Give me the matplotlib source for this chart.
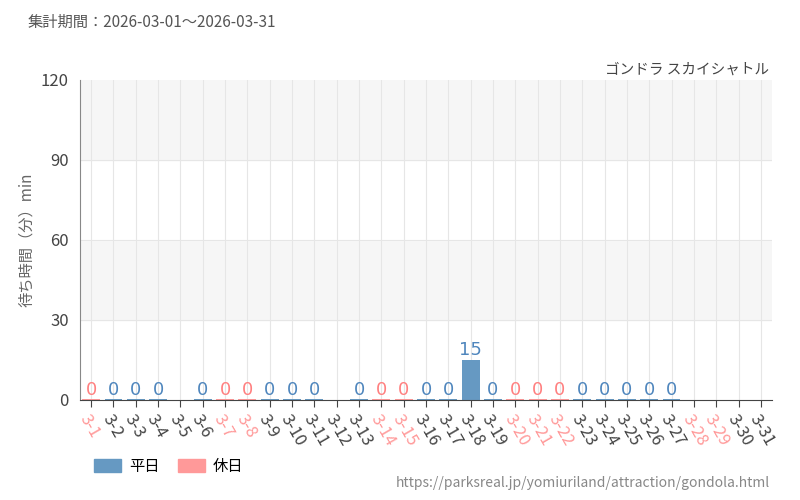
import numpy as np
import matplotlib.pyplot as plt
from matplotlib.patches import Patch

plt.rcParams['font.family'] = ['Noto Sans CJK JP', 'DejaVu Sans']

days = [f'3-{d}' for d in range(1, 32)]
# None = no data
waits = [0, 0, 0, 0, None, 0, 0, 0, 0, 0, 0, None, 0, 0, 0, 0, 0, 15, 0,
         0, 0, 0, 0, 0, 0, 0, 0, None, None, None, None]
holidays = [1, 7, 8, 14, 15, 20, 21, 22, 28, 29]

blue = '#6699c2'
red = '#ff9999'
blue_txt = '#4f86bd'
red_txt = '#ff8080'

fig = plt.figure(figsize=(8, 5), dpi=100)
ax = fig.add_axes([0.10, 0.20, 0.865, 0.64])

x = np.arange(len(days))
for lo, hi, c in [(0, 30, 'white'), (30, 60, '#f6f6f6'), (60, 90, 'white'), (90, 120, '#f6f6f6')]:
    ax.axhspan(lo, hi, color=c, zorder=0)
for xi in x:
    ax.axvline(xi, color='#e6e6e6', lw=0.8, zorder=1)
for yv in [30, 60, 90]:
    ax.axhline(yv, color='#e6e6e6', lw=0.8, zorder=1)

for i, v in enumerate(waits):
    if v is None:
        continue
    hol = (i + 1) in holidays
    col = red if hol else blue
    ax.bar(i, max(v, 0.4), width=0.8, color=col, zorder=2)
    ax.text(i, v + 0.3, str(v), ha='center', va='bottom', fontsize=13,
            color=red_txt if hol else blue_txt,
            family=['Liberation Sans Narrow', 'DejaVu Sans'], zorder=3)

ax.set_xlim(-0.5, len(days) - 0.5)
ax.set_ylim(0, 120)
ax.set_yticks([0, 30, 60, 90, 120])
ax.set_xticks(x)
ax.set_xticklabels(days, rotation=-60, ha='left', rotation_mode='anchor', fontsize=12)
for i, lab in enumerate(ax.get_xticklabels()):
    lab.set_color(red if (i + 1) in holidays else '#444444')
ax.tick_params(axis='y', length=0, labelsize=12, labelcolor='#444444', pad=8)
ax.tick_params(axis='x', length=5, color='#444444')
for s in ['top', 'right']:
    ax.spines[s].set_visible(False)
ax.spines['left'].set_color('#888888')
ax.spines['bottom'].set_color('#444444')
ax.set_ylabel('待ち時間（分）min', fontsize=11, color='#666666')

fig.text(0.035, 0.955, '集計期間：2026-03-01～2026-03-31', fontsize=11, color='#555555', va='center')
fig.text(0.962, 0.86, 'ゴンドラ スカイシャトル', fontsize=10.5, color='#444444', ha='right', va='center')
fig.text(0.962, 0.035, 'https://parksreal.jp/yomiuriland/attraction/gondola.html',
         fontsize=10, color='#888888', ha='right', va='center')
fig.legend(handles=[Patch(color=blue, label='平日'), Patch(color=red, label='休日')],
           loc='center left', bbox_to_anchor=(0.1, 0.067), ncol=2, frameon=False,
           fontsize=11, handlelength=1.8, handleheight=0.9, handletextpad=0.5,
           columnspacing=1.2)

fig.savefig('out.png', dpi=100)
